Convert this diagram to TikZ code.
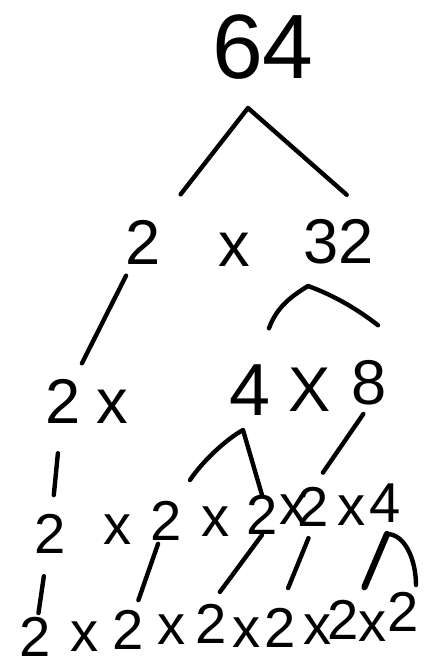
\documentclass[tikz,border=0pt]{standalone}
\usepackage{fontspec}
\setmainfont{Liberation Sans}

\tikzset{
  big/.style={inner sep=0pt, font=\fontsize{52}{52}\selectfont},
  num/.style={inner sep=0pt, font=\fontsize{36}{36}\selectfont},
  low/.style={inner sep=0pt, font=\fontsize{32}{32}\selectfont},
  bot/.style={inner sep=0pt, font=\fontsize{32}{32}\selectfont},
  branch/.style={line width=2.5pt, line cap=round, line join=round},
}

\begin{document}
\begin{tikzpicture}[x=0.02cm, y=-0.02cm]
  \useasboundingbox (0,0) rectangle (436,666);
  % numbers, row by row
  \node[big] (n64) at (263,47) {64};
  \node[num] (a2) at (143,242) {2};
  \node[num] (ax) at (234,250) {x};
  \node[num] (a32) at (339,242) {32};
  \node[num] (b2) at (63,401) {2};
  \node[num] (bx) at (112,407) {x};
  \node[num, font=\fontsize{42}{42}\selectfont] (b4) at (250,390) {4};
  \node[num] (bX) at (310,390) {X};
  \node[num] (b8) at (369,383) {8};
  \node[low] (c1) at (50,534) {2};
  \node[low] (c2) at (118,530) {x};
  \node[low] (c3) at (166,521) {2};
  \node[low] (c4) at (216,522) {x};
  \node[low] (c5) at (262,515) {2};
  \node[low] (c6) at (294,510) {x};
  \node[low] (c7) at (313,507) {2};
  \node[low] (c8) at (352,511) {x};
  \node[low] (c9) at (385,503) {4};
  \node[bot] (d1) at (35,637) {2};
  \node[bot] (d2) at (85,637) {x};
  \node[bot] (d3) at (128,630) {2};
  \node[bot] (d4) at (172,630) {x};
  \node[bot] (d5) at (211,624) {2};
  \node[bot] (d6) at (247,633) {x};
  \node[bot] (d7) at (280,628) {2};
  \node[bot] (d8) at (318,630) {x};
  \node[bot] (d9) at (343,620) {2};
  \node[bot] (d10) at (373,627) {x};
  \node[bot] (d11) at (403,612) {2};
  % forks
  \coordinate (top64) at (248,108);
  \coordinate (top32) at (308,286);
  \coordinate (top4) at (243,430);
  \coordinate (top9) at (387,534);
  \draw[branch, shorten <=0.64cm, shorten >=0.74cm] (a2.north east) -- (top64) -- (a32.north east);
  \draw[branch, shorten <=0.25cm, shorten >=0.34cm] (a2) -- (b2);
  \draw[branch] ([shift={(19,-36)}]b4.north) .. controls +(8,-22) and +(-16,10) .. (top32)
    .. controls +(28,10) and +(-18,-14) .. ([shift={(9,-35)}]b8.north);
  \draw[branch, shorten <=0.6cm, shorten >=0.38cm] (b2) -- (c1);
  \draw[branch] ([shift={(24,-21)}]c3.north) .. controls +(12,-18) and +(-18,10) .. (top4) -- (c5.north);
  \draw[branch, shorten <=0.2cm, shorten >=0.35cm] (b8.south) -- (c7.north);
  \draw[branch, shorten <=0.45cm, shorten >=0.08cm] (c1) -- (d1);
  \draw[branch, shorten <=0.06cm, shorten >=0.21cm] (c3) -- (d3);
  \draw[branch, shorten >=0.3cm] (c5.south) -- (d5.north);
  \draw[branch, shorten <=0.24cm, shorten >=0.43cm] (c7.south) -- (d7.north);
  \draw[branch, line width=3.6pt, shorten <=0.28cm] (d9.north east) -- (top9);
  \draw[branch] (top9) .. controls +(18,0) and +(0,-25) .. ([shift={(-3,-7)}]d11.north east);
\end{tikzpicture}
\end{document}
